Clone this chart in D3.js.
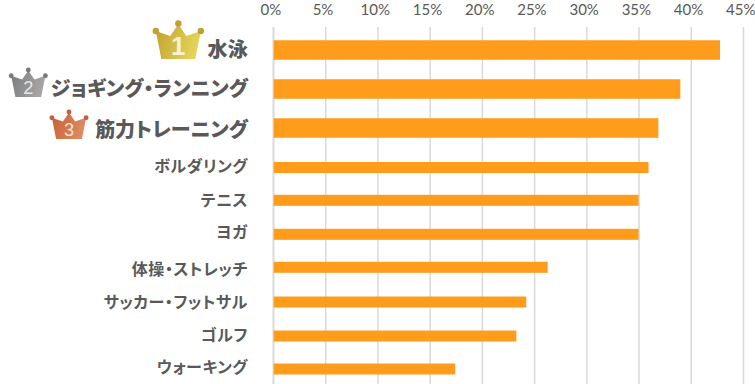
<!DOCTYPE html>
<html>

<head>
    <title>ranking</title>
    <style>
        * {
            margin: 0;
            padding: 0;
        }

        body {
            background: #fff;
            overflow: hidden;
        }

        text {
            font-family: "Noto Sans CJK JP", sans-serif;
            font-feature-settings: "palt";
        }
    </style>
    <script src="https://cdn.jsdelivr.net/npm/d3@7"></script>
</head>

<body>
    <div id="root"></div>
    <script>
        var categories = ["水泳", "ジョギング・ランニング", "筋力トレーニング", "ボルダリング", "テニス", "ヨガ", "体操・ストレッチ", "サッカー・フットサル", "ゴルフ", "ウォーキング"];
        var values = [42.8, 39.0, 36.9, 35.95, 35.0, 35.0, 26.3, 24.25, 23.3, 17.45];
        var tickValues = [0, 5, 10, 15, 20, 25, 30, 35, 40, 45];
        var medalNames = ["1", "2", "3"];

        var width = 755;
        var height = 384;

        var svg = d3.select("#root")
            .append("svg")
            .attr("width", width)
            .attr("height", height);

        var x = d3.scaleLinear().domain([0, 45]).range([273, 743]);
        // the rows are not quite even in the picture, top 3 are taller
        var y = d3.scaleOrdinal()
            .domain(categories)
            .range([50, 89, 128, 167.5, 200.3, 234.3, 267.3, 302, 336, 369]);
        // labels sit a little off their bars
        var labelShift = [0, 0, 1.5, -1.5, 0, -2, 1.5, 0, -1, -2];

        var grid = d3.axisTop(x)
            .tickValues(tickValues)
            .tickSize(-357)
            .tickPadding(12)
            .tickFormat(function(d) { return d + "%"; });

        var gAxis = svg.append("g")
            .attr("transform", "translate(0, 27)")
            .call(grid);
        gAxis.select(".domain").remove();
        gAxis.selectAll("line")
            .attr("stroke", "#d9d9d9")
            .attr("stroke-width", function(d) { return d == 0 ? 2 : 1.5; });
        gAxis.selectAll("text")
            .attr("x", -2.7)
            .attr("fill", "#595959")
            .style("font-family", "Lato, sans-serif")
            .style("font-size", "15px");

        svg.append("g")
            .selectAll("rect")
            .data(values)
            .enter()
            .append("rect")
            .attr("x", x(0) + 0.7)
            .attr("y", function(d, i) {
                var h = i < 3 ? 19.5 : 11;
                return y(categories[i]) - h / 2;
            })
            .attr("height", function(d, i) { return i < 3 ? 19.5 : 11; })
            .attr("width", function(d) { return x(d) - x(0) - 0.7; })
            .attr("fill", "#ff9c1c");

        svg.append("g")
            .selectAll("text")
            .data(categories)
            .enter()
            .append("text")
            .attr("x", 248)
            .attr("y", function(d, i) { return y(d) + labelShift[i]; })
            .attr("dy", "0.36em")
            .attr("text-anchor", "end")
            .attr("fill", "#595959")
            .style("font-size", function(d, i) { return i < 3 ? "20px" : "16px"; })
            .style("font-weight", function(d, i) { return i < 3 ? 900 : 700; })
            .style("letter-spacing", function(d, i) { return i < 3 ? "0.2px" : "0.55px"; })
            .text(function(d) { return d; });

        // medals
        var medalColors = [["#c2a02d", "#e3d35a"], ["#7a7a7a", "#a6a6a6"], ["#c55f36", "#dd8a5e"]];
        var medalPos = [[178.3, 59, 1], [28.3, 97, 0.76], [69, 139, 0.76]];
        var medalFont = ["26px", "24px", "24px"];
        var defs = svg.append("defs");
        medalColors.forEach(function(c, i) {
            var g = defs.append("linearGradient")
                .attr("id", "medal" + i)
                .attr("x1", 0).attr("y1", 0).attr("x2", 1).attr("y2", 0.3);
            g.append("stop").attr("offset", 0).attr("stop-color", c[0]);
            g.append("stop").attr("offset", 1).attr("stop-color", c[1]);
        });

        var medal = svg.append("g")
            .selectAll("g")
            .data(medalNames)
            .enter()
            .append("g")
            .attr("transform", function(d, i) {
                return "translate(" + medalPos[i][0] + "," + medalPos[i][1] + ") scale(" + medalPos[i][2] + ")";
            });
        medal.append("path")
            .attr("d", "M-17,0 L-22.5,-28 L-8,-23 L0,-35 L8,-23 L22.5,-28 L17,0 Z")
            .attr("fill", function(d, i) { return "url(#medal" + i + ")"; });
        medal.each(function(d, i) {
            d3.select(this).selectAll("circle")
                .data([[-22.5, -28], [0, -35.5], [22.5, -28]])
                .enter()
                .append("circle")
                .attr("cx", function(p) { return p[0]; })
                .attr("cy", function(p) { return p[1]; })
                .attr("r", 3.2)
                .attr("fill", medalColors[i][0]);
        });
        medal.append("text")
            .attr("y", -4)
            .attr("text-anchor", "middle")
            .attr("fill", "#fff")
            .attr("fill-opacity", 0.8)
            .style("font-family", "'Liberation Sans', sans-serif")
            .style("font-size", function(d, i) { return medalFont[i]; })
            .style("font-weight", function(d, i) { return i == 0 ? 700 : 400; })
            .text(function(d) { return d; });
    </script>
</body>

</html>
